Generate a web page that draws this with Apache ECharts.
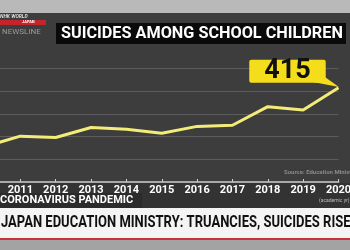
<!DOCTYPE html>
<html><head><meta charset="utf-8">
<script src="https://cdn.jsdelivr.net/npm/echarts@6/dist/echarts.min.js"></script>
<style>html,body{margin:0;padding:0;background:#3d3d3d;overflow:hidden}#c{width:350px;height:250px}</style>
</head><body><div id="c"></div>
<script>
var years = ['2010','2011','2012','2013','2014','2015','2016','2017','2018','2019','2020'];
var suicides = [156, 202, 196, 240, 232, 215, 245, 250, 332, 317, 415];
var yTicks = [0, 100, 200, 300, 400, 500];
var titleText = 'SUICIDES AMONG SCHOOL CHILDREN';
var headline = 'JAPAN EDUCATION MINISTRY: TRUANCIES, SUICIDES RISE';
var strapText = 'CORONAVIRUS PANDEMIC';
var sourceText = 'Source: Education Ministry';
var noteText = '(academic yr)';

var chart = echarts.init(document.getElementById('c'), null, {renderer:'canvas'});
var lastIdx = suicides.length - 1;
var lineData = suicides.map(function(v, i){
  if (i === lastIdx) {
    return {value: v, label: {show: true}};
  }
  return v;
});
chart.setOption({
  backgroundColor: '#3d3d3d',
  animation: false,
  grid: {left: -15, right: 11.5, top: 68.5, bottom: 68, containLabel: false, outerBoundsMode: 'none'},
  xAxis: {
    type: 'category', data: years, boundaryGap: false,
    axisLine: {lineStyle: {color: '#a8a8a8', width: 2}},
    axisTick: {show: true, inside: true, length: 3, interval: 0, lineStyle: {color: '#d0d0d0', width: 1}},
    axisLabel: {color: '#ffffff', fontSize: 11, fontWeight: 'bold', fontFamily: 'Roboto', margin: 3, interval: 0, hideOverlap: false}
  },
  yAxis: {
    type: 'value', min: yTicks[0], max: yTicks[yTicks.length-1], interval: 100,
    axisLabel: {show: false}, axisLine: {show: false}, axisTick: {show: false},
    splitLine: {lineStyle: {color: '#5c5c5c', width: 1}}
  },
  series: [{
    type: 'line', data: lineData, symbol: 'circle', symbolSize: 0, showSymbol: true,
    lineStyle: {color: '#f3ec78', width: 3},
    itemStyle: {color: '#f3ec78'},
    label: {
      show: false, position: 'top', distance: 5, offset: [-51, 0],
      formatter: '{c}', color: '#111', fontSize: 27, fontWeight: 'bold', fontFamily: 'Roboto',
      backgroundColor: '#f4de1c', padding: [0, 15], lineHeight: 23, borderRadius: 2
    },
    z: 5
  }],
  graphic: [
    {type: 'rect', shape: {x: 0, y: 0, width: 350, height: 13}, style: {fill: '#b9b9b9'}, z: 0},
    {type: 'rect', shape: {x: 0, y: 183, width: 350, height: 25}, style: {fill: '#333333'}, z: 0},
    {type: 'rect', shape: {x: 0, y: 193, width: 142, height: 15}, style: {fill: '#2b2b2b'}, z: 1},
    {type: 'text', x: 0, y: 195, style: {text: strapText, fill: '#ffffff', font: "bold 11px Roboto"}, z: 2},
    {type: 'text', x: 319, y: 198, style: {text: noteText, fill: '#bdbdbd', font: "5px Roboto"}, z: 2},
    {type: 'text', x: 284, y: 169, style: {text: sourceText, fill: '#8a8a8a', font: "bold 6px Roboto"}, z: 2},
    {type: 'rect', shape: {x: 0, y: 208, width: 350, height: 30}, style: {fill: '#f4f4f4'}, z: 1},
    {type: 'rect', shape: {x: 0, y: 238, width: 350, height: 2}, style: {fill: '#c8323c'}, z: 1},
    {type: 'rect', shape: {x: 0, y: 240, width: 350, height: 10}, style: {fill: '#a3a3a3'}, z: 1},
    {type: 'text', x: 1, y: 214, scaleX: 0.765, style: {text: headline, fill: '#111', font: "bold 17px Roboto"}, z: 2},
    {type: 'rect', shape: {x: 56, y: 23, width: 290, height: 21}, style: {fill: '#0a0a0a'}, z: 1},
    {type: 'text', x: 61, y: 25, scaleX: 0.955, style: {text: titleText, fill: '#ffffff', font: "bold 17px Roboto"}, z: 2},
    {type: 'text', x: 0, y: 14, style: {text: 'NHK WORLD', fill: '#dcdcdc', font: "italic bold 5px Roboto"}, z: 2},
    {type: 'rect', shape: {x: 0, y: 20, width: 46, height: 5}, style: {fill: '#c4242c'}, z: 1},
    {type: 'text', x: 22, y: 20, style: {text: 'JAPAN', fill: '#ffffff', font: "bold 4px Roboto"}, z: 2},
    {type: 'text', x: 2, y: 28, style: {text: 'NEWSLINE', fill: '#9a9a9a', font: "8px Roboto"}, z: 2},
    {type: 'polygon', shape: {points: [[313, 82], [322, 75], [339, 87]]}, style: {fill: '#f4de1c'}, z: 4}
  ]
});
</script></body></html>
